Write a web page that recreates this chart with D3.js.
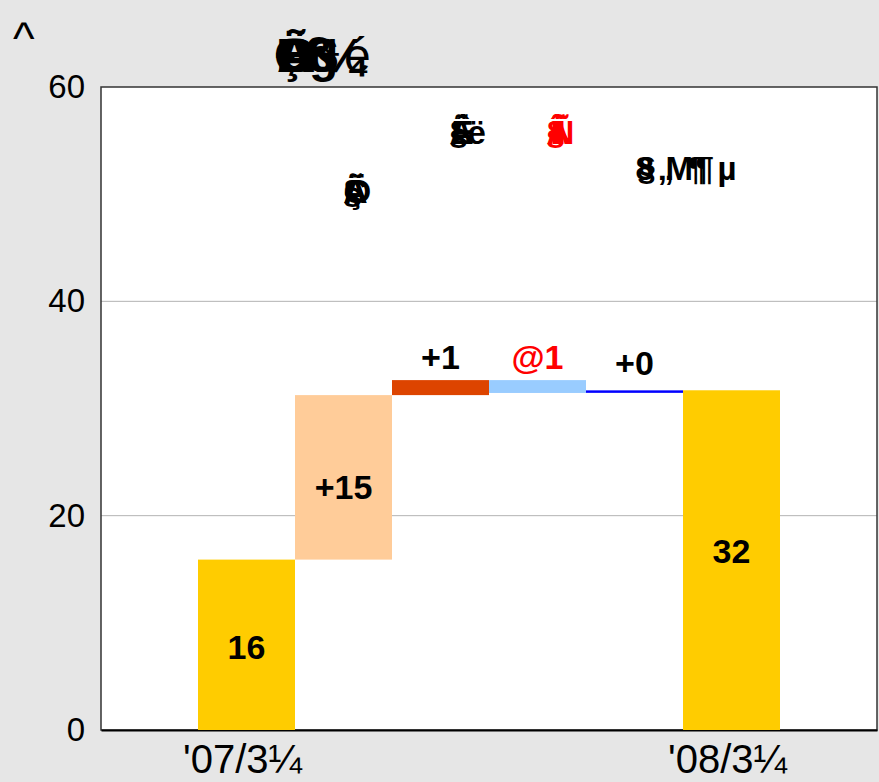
<!DOCTYPE html>
<html>
<head>
<meta charset="utf-8">
<script src="https://cdn.jsdelivr.net/npm/d3@7"></script>
<style>
  body { margin: 0; background: #e6e6e6; }
  svg { display: block; font-family: "Liberation Sans", Arial, sans-serif; }
</style>
</head>
<body>
<div id="chart"></div>
<script>
// band keys: one empty slot at each end, like the original sheet
let bandKeys = ["s0", "s1", "s2", "s3", "s4", "s5", "s6", "s7"];
let tickLabels = ["", "'07/3¼", "", "", "", "", "'08/3¼", ""];
let yTicks = [0, 20, 40, 60];

// waterfall pieces
let barKeys = ["s1", "s2", "s3", "s4", "s5", "s6"];
let barFrom = [0, 15.9, 31.25, 32.65, 31.6, 0];
let barTo = [15.9, 31.25, 32.65, 31.45, 31.6, 31.7];
let barLabels = ["16", "+15", "+1", "@1", "+0", "32"];
let barColors = ["#ffcc00", "#ffcc99", "#dd4400", "#99ccff", "#0000ff", "#ffcc00"];
let labelColors = ["#000", "#000", "#000", "#ff0000", "#000", "#000"];

// garbled item names above the steps (glyphs drawn on top of each other)
let nameKeys = ["s2", "s3", "s4", "s5"];
let nameValues = [50.3, 55.8, 55.8, 52.4];
let nameGlyphs = [["Ã", "Ç", "§", "Ä", "Ö"], ["§", "Ã", "Ê", "ë"], ["§", "Ã", "Î", "Ï", "Ñ"], ["8", "§", "„", "M", "¶", "¶", "µ"]];
let nameOffsets = [[0, 0, 0, 0, 2], [0, 0, 2, 18], [0, 0, 6, 10, 4], [0, 2, 22, 30, 52, 60, 82]];
let nameShift = [0, 9, 9, 1];
let nameColors = ["#000", "#000", "#ff0000", "#000"];

let titleGlyphs = ["Ç", "Ð", "Õ", "B", "Ä", "ß", "S", "g", "¼", "é"];
let titleOffsets = [0, 2, 4, 6, 3, 30, 33, 35, 50, 70];

let margin = {top: 87, right: 2, bottom: 52, left: 101},
    width = 879 - margin.left - margin.right,
    height = 782 - margin.top - margin.bottom;

let svg = d3.select("#chart").append("svg")
    .attr("width", 879)
    .attr("height", 782);

svg.append("rect")
    .attr("width", 879).attr("height", 782)
    .attr("fill", "#e6e6e6");

let g = svg.append("g")
    .attr("transform", "translate(" + margin.left + "," + margin.top + ")");

let xScale = d3.scaleBand().range([0, width]).domain(bandKeys).padding(0);
let yScale = d3.scaleLinear().range([height, 0]).domain([0, 60]);

g.append("rect")
    .attr("width", width).attr("height", height)
    .attr("fill", "#fff");

// grid lines
g.append("g")
    .selectAll("line")
    .data(yTicks.filter((d) => d > 0 && d < 60))
    .enter().append("line")
    .attr("x1", 0).attr("x2", width)
    .attr("y1", (d) => yScale(d)).attr("y2", (d) => yScale(d))
    .attr("stroke", "#b3b3b3").attr("stroke-width", 1);

// plot frame
g.append("rect")
    .attr("width", width).attr("height", height)
    .attr("fill", "none").attr("stroke", "#333").attr("stroke-width", 1.5);

// y axis
let yAxis = g.append("g")
    .call(d3.axisLeft(yScale).tickValues(yTicks).tickSize(0).tickPadding(16));
yAxis.select(".domain").remove();
yAxis.selectAll("text")
    .attr("font-family", "Liberation Sans, Arial, sans-serif")
    .attr("font-size", 33)
    .attr("fill", "#000");

// x axis
let xAxis = g.append("g")
    .attr("transform", "translate(0," + height + ")")
    .call(d3.axisBottom(xScale).tickSize(0).tickPadding(13)
        .tickFormat((d, i) => tickLabels[i]));
xAxis.select(".domain").attr("stroke", "#000").attr("stroke-width", 2);
xAxis.selectAll("text")
    .attr("font-family", "Liberation Sans, Arial, sans-serif")
    .attr("font-size", 40)
    .attr("fill", "#000")
    .attr("dx", "-0.1em")
    .attr("dy", "0.75em");

// waterfall bars
let bars = barKeys.map((k, i) => ({key: k, from: barFrom[i], to: barTo[i], label: barLabels[i],
    color: barColors[i], labelColor: labelColors[i]}));

g.selectAll(".bar")
    .data(bars)
    .enter().append("rect")
    .attr("class", "bar")
    .attr("x", (d) => xScale(d.key))
    .attr("width", xScale.bandwidth())
    .attr("y", (d) => d.from === d.to ? yScale(d.from) - 1 : yScale(Math.max(d.from, d.to)))
    .attr("height", (d) => d.from === d.to ? 2.5 : Math.abs(yScale(d.from) - yScale(d.to)))
    .attr("fill", (d) => d.color);

// value labels: totals and the big step inside, small steps above
g.selectAll(".vlabel")
    .data(bars)
    .enter().append("text")
    .attr("class", "vlabel")
    .attr("x", (d) => xScale(d.key) + xScale.bandwidth() / 2)
    .attr("y", (d, i) => {
        let top = yScale(Math.max(d.from, d.to)), bottom = yScale(Math.min(d.from, d.to));
        if (bottom - top > 40) return (top + bottom) / 2 + (i === 5 ? -9 : (i === 1 ? 9 : 2));
        return top - 11 - (d.from === d.to ? 6 : 0) - 12;
    })
    .attr("dy", "0.36em")
    .attr("text-anchor", "middle")
    .attr("font-size", 34)
    .attr("font-weight", "bold")
    .attr("fill", (d) => d.labelColor)
    .text((d) => d.label);

// overlapped item names, one text per name, glyphs stacked as tspans
nameKeys.forEach((k, i) => {
    let x0 = xScale(k) + xScale.bandwidth() / 2 + nameShift[i];
    g.append("text")
        .attr("y", yScale(nameValues[i]))
        .attr("dy", "0.35em")
        .attr("font-size", 33)
        .attr("font-weight", "bold")
        .attr("fill", nameColors[i])
        .selectAll("tspan")
        .data(nameGlyphs[i])
        .enter().append("tspan")
        .attr("x", (d, j) => x0 + nameOffsets[i][j])
        .text((d) => d);
});

// title built from overlapping glyphs
svg.append("text")
    .attr("y", 72)
    .attr("font-size", 48)
    .attr("fill", "#000")
    .selectAll("tspan")
    .data(titleGlyphs)
    .enter().append("tspan")
    .attr("x", (d, i) => 274 + titleOffsets[i])
    .attr("font-weight", (d, i) => i < 9 ? "bold" : "normal")
    .text((d) => d);

svg.append("text")
    .attr("x", 13).attr("y", 54)
    .attr("font-size", 46)
    .attr("fill", "#000")
    .text("^");
</script>
</body>
</html>
